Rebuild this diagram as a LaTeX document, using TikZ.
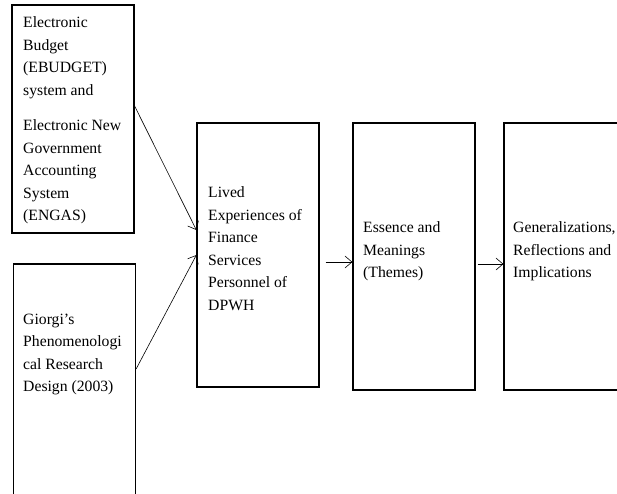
\documentclass[tikz,border=0pt]{standalone}
\usepackage{fontspec}
\setmainfont{Liberation Serif}
\usepackage{tikz}
\usetikzlibrary{arrows.meta}
\tikzset{box/.style={draw,line width=1.2pt,minimum width=122pt,inner sep=0pt}}
\tikzset{txt/.style={anchor=north west,inner sep=0pt,align=left,font=\fontsize{15.7pt}{22.5pt}\selectfont}}
\tikzset{flow/.style={line width=0.6pt,-{Straight Barb[length=7pt,width=12pt,line width=0.6pt]}}}

\begin{document}
\begin{tikzpicture}[x=1pt,y=-1pt]
	\clip (0,0) rectangle (617,493);
	\fill[white] (0,0) rectangle (617,493);
	% boxes
	\node[box,minimum height=228pt] (ebudget) at (73,119) {};
	\node[box,minimum height=240pt] (giorgi) at (74.5,384) {};
	\node[box,minimum height=264pt] (lived) at (258,255) {};
	\node[box,minimum height=267pt] (essence) at (414,256.5) {};
	\node[box,minimum height=267pt] (general) at (565,256.5) {};
	% texts
	\node[txt] (ebudgettxt) at (23,16.5) {Electronic\\Budget\\(EBUDGET)\\system and\\[13pt]Electronic New\\Government\\Accounting\\System\\(ENGAS)};
	\node[txt] (giorgitxt) at (23,313.5) {Giorgi’s\\Phenomenologi\\cal Research\\Design (2003)};
	\node[txt] (livedtxt) at (208,186.5) {Lived\\Experiences of\\Finance\\Services\\Personnel of\\DPWH};
	\node[txt] (essencetxt) at (363,221.5) {Essence and\\Meanings\\(Themes)};
	\node[txt] (generaltxt) at (513,221.5) {Generalizations,\\Reflections and\\Implications};
	% arrows
	\draw[flow] ([yshift=13pt]ebudget.east) -- ([yshift=25pt]lived.west);
	\draw[flow] ([yshift=15pt]giorgi.east) -- (lived.west);
	\draw[flow,shorten <=6pt] ([yshift=-7pt]lived.east) -- ([yshift=-7pt]lived.east -| essence.west);
	\draw[flow,shorten <=2pt] ([yshift=-7.5pt]essence.east) -- ([yshift=-7.5pt]essence.east -| general.west);
\end{tikzpicture}
\end{document}
